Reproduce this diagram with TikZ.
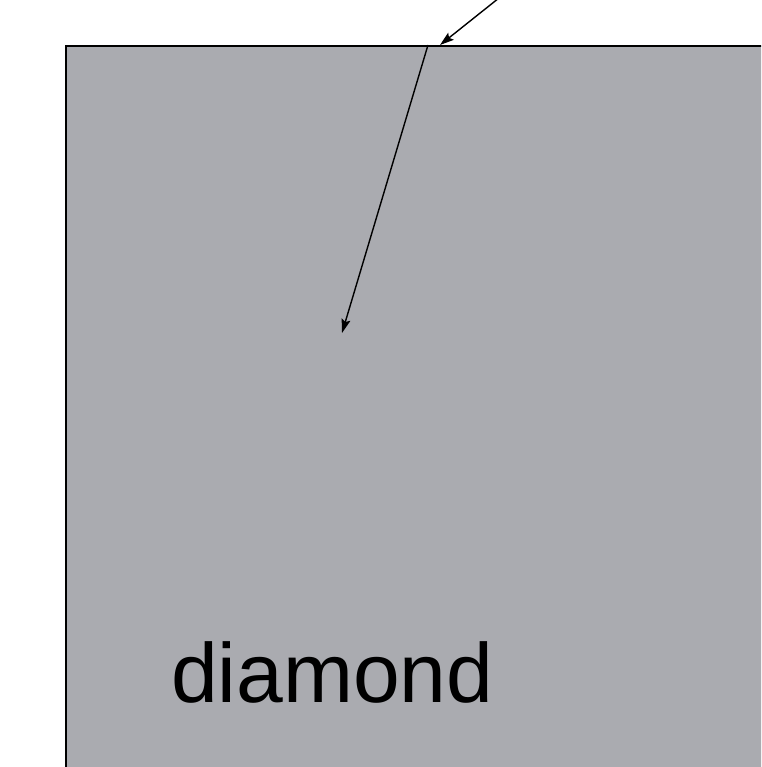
\documentclass[tikz,border=0pt]{standalone}
\usepackage{fontspec}
\setmainfont{Liberation Sans}
\usepackage{xcolor}
\usetikzlibrary{arrows.meta, positioning}

\definecolor{shapegray}{RGB}{170,171,176}

\begin{document}
\begin{tikzpicture}[
    x=1pt, y=-1pt,
    shapebox/.style={rectangle, draw=black, fill=shapegray, line width=1.8pt,
                     anchor=north west, inner sep=0pt, minimum width=760pt, minimum height=760pt},
    arrow/.style={-{Stealth[length=14pt, width=9pt, inset=2.5pt]}, line width=1.4pt, draw=black},
    lbl/.style={font=\fontsize{84}{100}\selectfont, inner sep=0pt}
]
\useasboundingbox (0,0) rectangle (761,767);
\clip (0,0) rectangle (761,767);

% === Shape ===
\node[shapebox] (shape) at (65,45) {};
\node[lbl, anchor=base west] (name) at (171,702) {diamond};

% === Connectors ===
\coordinate (src) at (499,-2);
\coordinate (hit) at (440,45);
\coordinate (start) at (428,45);
\coordinate (dst) at (342,333);

\draw[arrow] (src) -- (hit);
\draw[arrow] (start) -- (dst);

\end{tikzpicture}
\end{document}
